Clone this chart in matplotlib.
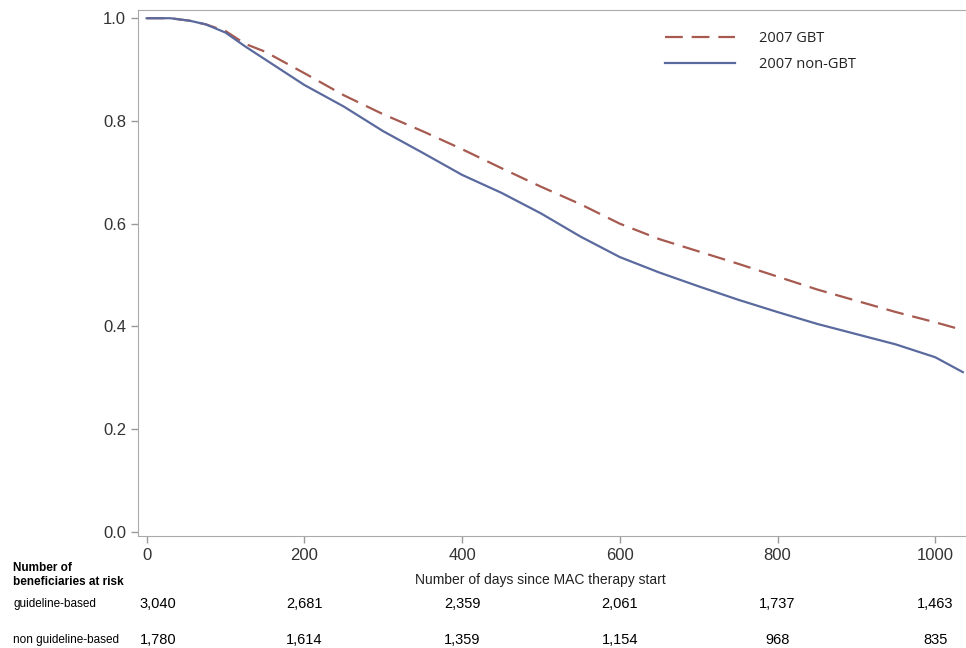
import matplotlib.pyplot as plt
from matplotlib import transforms

# survival estimates (days since MAC therapy start)
days = [0, 30, 55, 75, 100, 125, 150, 200, 250, 300, 350, 400, 450, 500,
        550, 600, 650, 700, 750, 800, 850, 900, 950, 1000, 1035]
gbt = [1.000, 1.000, 0.995, 0.988, 0.975, 0.950, 0.935, 0.893, 0.850, 0.813,
       0.780, 0.745, 0.708, 0.672, 0.638, 0.600, 0.570, 0.546, 0.522, 0.497,
       0.472, 0.450, 0.428, 0.408, 0.393]
non_gbt = [1.000, 1.000, 0.995, 0.988, 0.972, 0.945, 0.920, 0.870, 0.828,
           0.780, 0.738, 0.695, 0.660, 0.620, 0.575, 0.535, 0.505, 0.478,
           0.452, 0.428, 0.405, 0.385, 0.365, 0.340, 0.311]

risk_days = [0, 200, 400, 600, 800, 1000]
risk_gbt = ['3,040', '2,681', '2,359', '2,061', '1,737', '1,463']
risk_non = ['1,780', '1,614', '1,359', '1,154', '968', '835']

plt.rcParams['font.family'] = ['Liberation Sans', 'DejaVu Sans']

fig = plt.figure(figsize=(9.66, 6.48), dpi=100)
ax = fig.add_axes([138/966, 1-536/648, 1-138/966, (536-10)/648])

ax.plot(days, gbt, color='#a65a50', lw=1.6, dashes=(8, 4), label='2007 GBT')
ax.plot(days, non_gbt, color='#5b6a9e', lw=1.6, label='2007 non-GBT')

ax.set_xlim(-11, 1039)
ax.set_ylim(-0.008, 1.016)
ax.set_xticks(risk_days)
ax.set_yticks([0.0, 0.2, 0.4, 0.6, 0.8, 1.0])
ax.set_yticklabels(['0.0', '0.2', '0.4', '0.6', '0.8', '1.0'])
ax.tick_params(colors='#333333', labelsize=12, length=5, width=1, direction='out')
ax.tick_params(axis='both', color='#999999')
for side in ['left', 'bottom', 'top']:
    ax.spines[side].set_color('#aaaaaa')
ax.spines['right'].set_visible(False)

leg = ax.legend(loc='upper left', bbox_to_anchor=(0.621, 0.985), frameon=False,
                prop={'family': ['Open Sans', 'DejaVu Sans'], 'size': 10.5},
                handlelength=4.8, handletextpad=1.6, labelspacing=0.75)
for t in leg.get_texts():
    t.set_color('#222222')

# at-risk table below the axis
tr = transforms.blended_transform_factory(ax.transData, fig.transFigure)
fig.text(13/966, 1-575/648, 'Number of\nbeneficiaries at risk', fontsize=8.5,
         fontweight='bold', va='center', ha='left', linespacing=1.2)
fig.text(540/966, 1-580/648, 'Number of days since MAC therapy start',
         fontsize=10, ha='center', va='center', color='#222222')
fig.text(13/966, 1-604/648, 'guideline-based', fontsize=8.5, va='center')
fig.text(13/966, 1-640/648, 'non guideline-based', fontsize=8.5, va='center')
for d, g, n in zip(risk_days, risk_gbt, risk_non):
    off = 14 if d == 0 else 0
    ax.text(d + off, 1-604/648, g, transform=tr, ha='center', va='center', fontsize=10.5)
    ax.text(d + off, 1-640/648, n, transform=tr, ha='center', va='center', fontsize=10.5)

fig.savefig('out.png', dpi=100)
